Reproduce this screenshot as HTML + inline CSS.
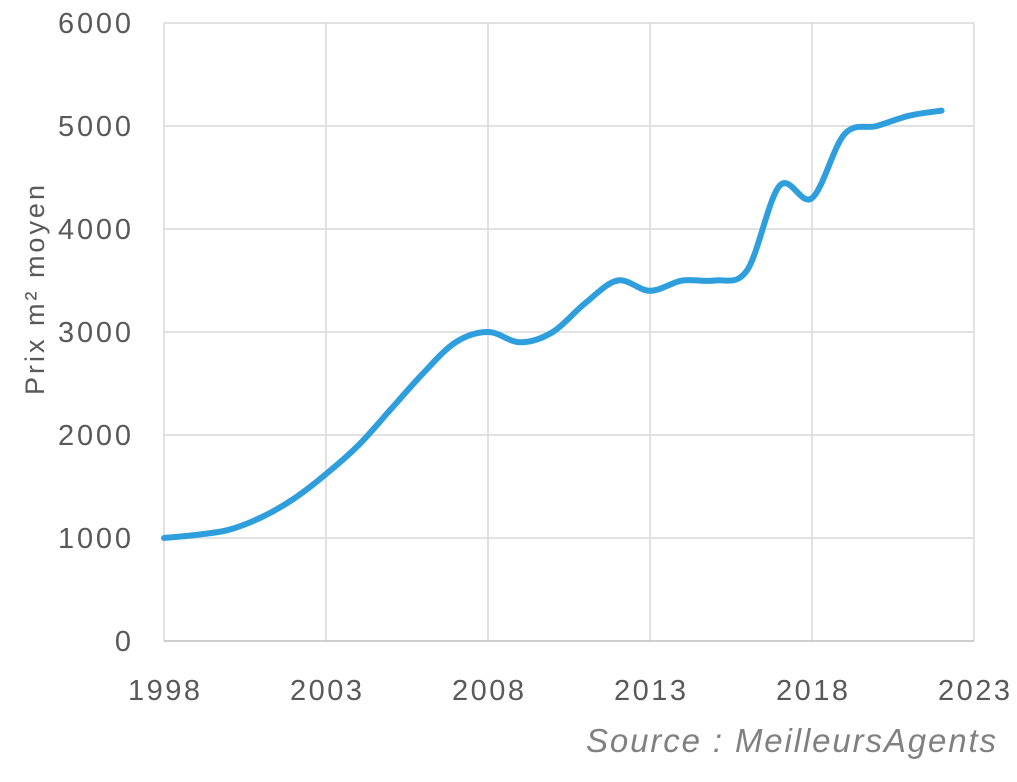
<!DOCTYPE html>
<html><head><meta charset="utf-8"><style>
html,body{margin:0;padding:0;background:#fff;}
svg text{font-family:"Liberation Sans",sans-serif;fill:#595959;}
</style></head><body>
<svg id="s" width="1017" height="777" xmlns="http://www.w3.org/2000/svg">
<g stroke="#d9d9d9" stroke-width="1.5">
<line x1="164" y1="23" x2="974" y2="23"/>
<line x1="164" y1="126" x2="974" y2="126"/>
<line x1="164" y1="229" x2="974" y2="229"/>
<line x1="164" y1="332" x2="974" y2="332"/>
<line x1="164" y1="435" x2="974" y2="435"/>
<line x1="164" y1="538" x2="974" y2="538"/>
<line x1="164" y1="23" x2="164" y2="641"/>
<line x1="326" y1="23" x2="326" y2="641"/>
<line x1="488" y1="23" x2="488" y2="641"/>
<line x1="650" y1="23" x2="650" y2="641"/>
<line x1="812" y1="23" x2="812" y2="641"/>
<line x1="974" y1="23" x2="974" y2="641"/>
</g>
<line x1="164" y1="641" x2="974" y2="641" stroke="#bfbfbf" stroke-width="1.5"/>
<g font-size="29" text-anchor="end">
<text x="131" y="33" textLength="73">6000</text>
<text x="131" y="136" textLength="73">5000</text>
<text x="131" y="239" textLength="73">4000</text>
<text x="131" y="342" textLength="73">3000</text>
<text x="131" y="445" textLength="73">2000</text>
<text x="131" y="548" textLength="73">1000</text>
<text x="131" y="651">0</text>
</g>
<g font-size="29" text-anchor="middle">
<text x="164" y="700" textLength="72">1998</text>
<text x="326" y="700" textLength="72">2003</text>
<text x="488" y="700" textLength="72">2008</text>
<text x="650" y="700" textLength="72">2013</text>
<text x="812" y="700" textLength="72">2018</text>
<text x="974" y="700" textLength="72">2023</text>
</g>
<text transform="translate(44,290) rotate(-90)" font-size="27" text-anchor="middle" textLength="210">Prix m² moyen</text>
<text x="996" y="752" font-size="33" font-style="italic" text-anchor="end" textLength="410" style="fill:#808080">Source : MeilleursAgents</text>
<path id="p" d="M164,538 L974,112" fill="none" stroke="#2e9fdc" stroke-width="6" stroke-linecap="round" stroke-linejoin="round"/>
</svg>
<script>
var v=[1000,1030,1080,1200,1380,1620,1900,2250,2600,2900,3000,2900,3000,3280,3500,3400,3500,3500,3600,4420,4300,4920,5000,5100,5150];
var P=v.map(function(d,i){return [164+i*32.4,641-d*0.103];});
var s="M"+P[0][0].toFixed(1)+","+P[0][1].toFixed(1);
for(var i=0;i<P.length-1;i++){
var p0=P[i-1]||P[i],p1=P[i],p2=P[i+1],p3=P[i+2]||P[i+1];
var c1=[p1[0]+(p2[0]-p0[0])/6,p1[1]+(p2[1]-p0[1])/6];
var c2=[p2[0]-(p3[0]-p1[0])/6,p2[1]-(p3[1]-p1[1])/6];
s+=" C"+c1[0].toFixed(1)+","+c1[1].toFixed(1)+" "+c2[0].toFixed(1)+","+c2[1].toFixed(1)+" "+p2[0].toFixed(1)+","+p2[1].toFixed(1);
}
document.getElementById("p").setAttribute("d",s);
</script>
</body></html>
